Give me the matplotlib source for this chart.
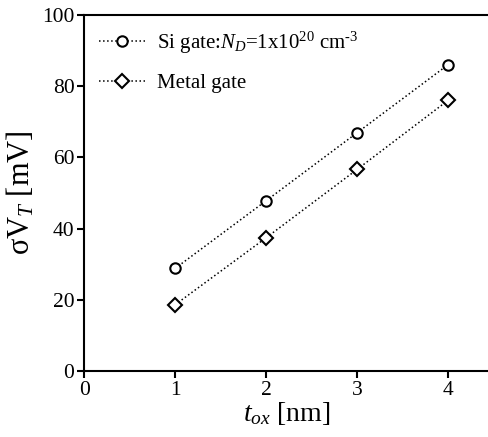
import matplotlib
matplotlib.use("Agg")
import matplotlib.pyplot as plt

plt.rcParams['font.family'] = ['Liberation Serif', 'DejaVu Serif']
plt.rcParams['mathtext.fontset'] = 'custom'
plt.rcParams['mathtext.rm'] = 'Liberation Serif'
plt.rcParams['mathtext.it'] = 'Liberation Serif:italic'
plt.rcParams['mathtext.bf'] = 'Liberation Serif:bold'

tox = [1, 2, 3, 4]
si_gate = [28.8, 47.8, 66.9, 86.0]
metal_gate = [18.6, 37.4, 56.6, 76.0]
xticks = [0, 1, 2, 3, 4]
yticks = [0, 20, 40, 60, 80, 100]

fig = plt.figure(figsize=(4.89, 4.37), dpi=100)
ax = fig.add_axes([0.172, 0.151, 0.828, 0.815])

ax.plot(tox, si_gate, linestyle=':', color='black', linewidth=1.1,
        marker='o', markersize=7.5, markerfacecolor='white', markeredgecolor='black',
        markeredgewidth=1.5, label='Si gate:$N_D$=1x10$^{\\mathrm{20}}$ cm$^{\\mathrm{\u20103}}$')
ax.plot(tox, metal_gate, linestyle=':', color='black', linewidth=1.1,
        marker='D', markersize=7, markerfacecolor='white', markeredgecolor='black',
        markeredgewidth=1.5, label='Metal gate')

ax.set_xlim(0, 4.45)
ax.set_ylim(0, 100)
ax.set_xticks(xticks)
ax.set_yticks(yticks)
ax.spines['right'].set_visible(False)
for s in ['left', 'bottom', 'top']:
    ax.spines[s].set_linewidth(1.5)
ax.tick_params(direction='out', length=5, width=1.5, labelsize=15.5, pad=2)

ax.set_xlabel(r'$t_{ox}$ [nm]', fontsize=20, labelpad=0)
ax.set_ylabel(r'$\mathrm{\sigma V}_T$ [mV]', fontsize=22, labelpad=4)

leg = ax.legend(loc='upper left', frameon=False, fontsize=15, handlelength=2.2,
                handletextpad=0.6, labelspacing=0.85, borderaxespad=0.3,
                bbox_to_anchor=(0.0, 1.0))

fig.savefig('out.png', dpi=100)
